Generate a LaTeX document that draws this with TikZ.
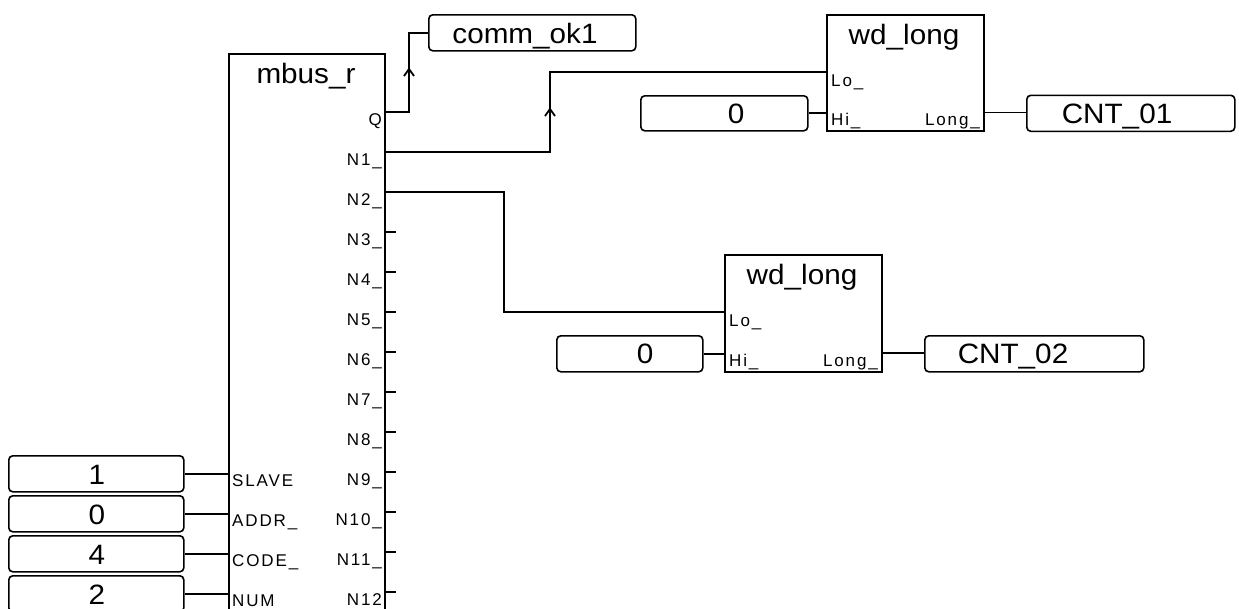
\documentclass[tikz,border=0pt]{standalone}
\usepackage{fontspec}
\setmainfont{Liberation Sans}
\newfontfamily\bigf[FakeStretch=1.06]{Liberation Sans}
\newfontfamily\pinf[LetterSpace=11]{Liberation Sans}
\begin{document}
\begin{tikzpicture}[x=1pt,y=-1pt,
  wire/.style={line width=1.8pt},
  blk/.style={draw, line width=1.8pt, anchor=north west, inner sep=0pt},
  cst/.style={draw, line width=1.6pt, rounded corners=4pt, anchor=north west, inner sep=0pt},
  big/.style={font=\bigf\fontsize{28}{30}\selectfont, inner sep=0pt, anchor=base},
  pinl/.style={font=\pinf\fontsize{17}{19}\selectfont, inner sep=0pt, anchor=base west},
  pinr/.style={font=\pinf\fontsize{17}{19}\selectfont, inner sep=0pt, anchor=base east}]
\useasboundingbox (0,0) rectangle (1239,608);
\clip (0,0) rectangle (1239,608);
\fill[white] (0,0) rectangle (1239,608);

% main block
\node[blk, minimum width=156pt, minimum height=700pt] (mb) at (228,53) {};
\node[big] (tmb) at (306,83) {mbus\_r};
\foreach \t [count=\i from 0] in {Q,N1\_,N2\_,N3\_,N4\_,N5\_,N6\_,N7\_,N8\_,N9\_,N10\_,N11\_,N12}
  \node[pinr] (rl\i) at (382,{112+40*\i+13}) {\t};
\foreach \i in {3,...,12}
  \draw[wire] ({384},{112+40*\i}) coordinate (stub\i) -- ++(12,0) coordinate (stubend\i);
\coordinate (mQ) at (384,112);
\coordinate (mN1) at (384,152);
\coordinate (mN2) at (384,192);

% left inputs
\foreach \t/\v/\y [count=\i] in {SLAVE/1/473, ADDR\_/0/513, CODE\_/4/553, NUM/2/593}{
  \node[cst, minimum width=175pt, minimum height=36pt] (in\i) at (8,{\y-18}) {};
  \node[big] (tin\i) at (97,{\y+11}) {\v};
  \node[pinl] (ll\i) at (232,{\y+13}) {\t};
  \coordinate (mp\i) at (228,\y);
  \draw[wire] (in\i.east) -- (in\i.east -| mp\i);
}

% comm_ok1
\node[cst, minimum width=207pt, minimum height=36pt] (comm) at (428,14) {};
\node[big] (tcomm) at (525,43) {comm\_ok1};
\draw[wire] (mQ) -- ++(25,0) |- (comm.west);
\draw[wire, line join=round] (404,76) -- (409,69) -- (414,76);

% wd_long 1
\node[blk, minimum width=157pt, minimum height=116pt] (w1) at (826,14) {};
\node[big] (tw1) at (904,44) {wd\_long};
\node[pinl] (w1lo) at (831,86) {Lo\_};
\node[pinl] (w1hi) at (831,125) {Hi\_};
\node[pinr] (w1lg) at (980,125) {Long\_};
\coordinate (w1in1) at (826,72);
\coordinate (w1in2) at (826,112.5);
\coordinate (w1out) at (983,112.5);
\draw[wire] (mN1) -- ++(166,0) |- (w1in1);
\draw[wire, line join=round] (545,116) -- (550,109) -- (555,116);
\node[cst, minimum width=167pt, minimum height=35pt] (c01) at (640,95) {};
\node[big] (tc01) at (736,123) {0};
\draw[wire] (c01.east) -- (c01.east -| w1in2);
\node[cst, minimum width=208pt, minimum height=36pt] (cnt1) at (1026,94.5) {};
\node[big] (tcnt1) at (1117,123) {CNT\_01};
\draw[wire] (w1out) -- (w1out -| cnt1.west);

% wd_long 2
\node[blk, minimum width=157pt, minimum height=117pt] (w2) at (724,254) {};
\node[big] (tw2) at (802,284) {wd\_long};
\node[pinl] (w2lo) at (729,326) {Lo\_};
\node[pinl] (w2hi) at (729,366) {Hi\_};
\node[pinr] (w2lg) at (878,366) {Long\_};
\coordinate (w2in1) at (724,312);
\coordinate (w2in2) at (724,353);
\coordinate (w2out) at (881,353);
\draw[wire] (mN2) -- ++(120,0) |- (w2in1);
\node[cst, minimum width=146pt, minimum height=36pt] (c02) at (556,335) {};
\node[big] (tc02) at (645,363) {0};
\draw[wire] (c02.east) -- (c02.east -| w2in2);
\node[cst, minimum width=219pt, minimum height=36pt] (cnt2) at (924,335) {};
\node[big] (tcnt2) at (1013,363) {CNT\_02};
\draw[wire] (w2out) -- (w2out -| cnt2.west);
\end{tikzpicture}
\end{document}
